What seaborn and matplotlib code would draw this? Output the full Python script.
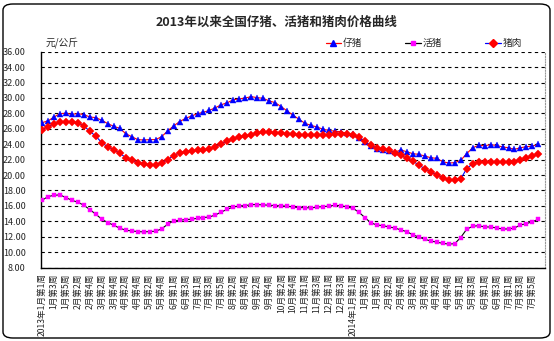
import matplotlib
matplotlib.use("Agg")
import matplotlib.pyplot as plt
from matplotlib.lines import Line2D
from matplotlib.patches import FancyBboxPatch
import seaborn as sns
import pandas as pd
import numpy as np

# ---------------- data ----------------
tick_labels = [
    "2013年1月第1周", "1月第3周", "1月第5周", "2月第2周", "2月第4周", "3月第2周", "3月第4周",
    "4月第2周", "4月第4周", "5月第2周", "5月第4周", "6月第1周", "6月第3周", "7月第1周",
    "7月第3周", "7月第5周", "8月第2周", "8月第4周", "9月第2周", "9月第4周", "10月第2周",
    "10月第4周", "11月第1周", "11月第3周", "12月第1周", "12月第3周", "2014年1月第1周",
    "1月第3周", "1月第5周", "2月第2周", "2月第4周", "3月第2周", "3月第4周", "4月第2周",
    "4月第4周", "5月第1周", "5月第3周", "6月第1周", "6月第3周", "7月第1周", "7月第3周",
    "7月第5周",
]

piglet = [  # 仔猪
    26.80, 27.02, 27.53, 27.97, 28.01, 27.88, 27.97, 27.84, 27.53, 27.45,
    27.10, 26.67, 26.32, 26.06, 25.37, 24.98, 24.60, 24.55, 24.60, 24.60,
    24.98, 25.72, 26.37, 26.93, 27.36, 27.66, 27.97, 28.14, 28.40, 28.74,
    29.13, 29.39, 29.78, 29.87, 30.00, 30.17, 30.04, 29.95, 29.61, 29.39,
    28.87, 28.31, 27.75, 27.22, 26.70, 26.44, 26.23, 25.93, 25.80, 25.67,
    25.62, 25.41, 25.28, 24.84, 24.33, 23.77, 23.33, 23.21, 23.16, 22.99,
    23.25, 23.03, 22.77, 22.69, 22.47, 22.25, 22.17, 21.73, 21.56, 21.61,
    21.91, 22.77, 23.55, 23.85, 23.81, 23.94, 23.85, 23.64, 23.55, 23.33,
    23.55, 23.68, 23.77, 23.98,
]

live_hog = [  # 活猪
    16.73, 17.21, 17.38, 17.43, 17.08, 16.73, 16.47, 16.09, 15.52, 14.92,
    14.27, 13.84, 13.49, 13.11, 12.85, 12.76, 12.67, 12.63, 12.67, 12.72,
    13.02, 13.62, 14.06, 14.14, 14.23, 14.27, 14.40, 14.49, 14.57, 14.83,
    15.22, 15.57, 15.87, 16.00, 16.04, 16.17, 16.17, 16.13, 16.09, 16.04,
    16.00, 15.96, 15.86, 15.78, 15.78, 15.73, 15.86, 15.90, 15.99, 16.08,
    16.03, 15.86, 15.69, 15.17, 14.48, 13.79, 13.53, 13.44, 13.27, 13.14,
    12.88, 12.67, 12.24, 11.97, 11.67, 11.45, 11.30, 11.15, 11.05, 11.10,
    11.90, 12.97, 13.36, 13.44, 13.27, 13.27, 13.14, 13.01, 13.01, 13.14,
    13.53, 13.70, 13.96, 14.26,
]

pork = [  # 猪肉
    25.89, 26.28, 26.63, 26.84, 26.84, 26.89, 26.80, 26.37, 25.68, 25.03,
    24.21, 23.65, 23.30, 22.83, 22.26, 21.92, 21.57, 21.40, 21.31, 21.36,
    21.57, 22.00, 22.52, 22.91, 23.04, 23.17, 23.21, 23.26, 23.39, 23.65,
    24.08, 24.42, 24.73, 24.90, 25.07, 25.24, 25.42, 25.63, 25.55, 25.46,
    25.42, 25.33, 25.27, 25.19, 25.15, 25.15, 25.15, 25.19, 25.24, 25.28,
    25.32, 25.28, 25.15, 24.93, 24.41, 23.85, 23.55, 23.33, 23.25, 22.90,
    22.56, 22.17, 21.82, 21.30, 20.83, 20.39, 20.05, 19.66, 19.40, 19.32,
    19.49, 20.83, 21.48, 21.69, 21.69, 21.74, 21.69, 21.65, 21.65, 21.65,
    22.00, 22.21, 22.43, 22.77,
]

series_names = ["仔猪", "活猪", "猪肉"]

# ---------------- style ----------------
sns.set_style("white")
plt.rcParams["font.family"] = ["Noto Sans CJK SC", "DejaVu Sans"]
plt.rcParams["axes.unicode_minus"] = False

W, H = 554, 341
fig = plt.figure(figsize=(W / 100, H / 100), dpi=100)
ax = fig.add_axes([41 / W, 1 - 267.6 / H, (545 - 41) / W, (267.6 - 51.7) / H])

weeks = np.arange(len(piglet))
df = pd.DataFrame({"week": weeks, "仔猪": piglet, "活猪": live_hog, "猪肉": pork})

sns.lineplot(data=df, x="week", y="仔猪", ax=ax, color="#ff0000", linewidth=0.8,
             marker="^", markersize=5.0, markerfacecolor="#0000ff",
             markeredgecolor="#0000ff", markeredgewidth=0.3, zorder=3)
sns.lineplot(data=df, x="week", y="活猪", ax=ax, color="black", linewidth=0.8,
             marker="s", markersize=2.6, markerfacecolor="#ff00ff",
             markeredgecolor="#ff00ff", markeredgewidth=0.3, zorder=3)
sns.lineplot(data=df, x="week", y="猪肉", ax=ax, color="#0000ff", linewidth=0.8,
             marker="D", markersize=4.0, markerfacecolor="#ff0000",
             markeredgecolor="#ff0000", markeredgewidth=0.3, zorder=3)

# axes
ax.set_xlim(-0.17, 84.1)
ax.set_ylim(8, 36)
ax.set_yticks(np.arange(8, 37, 2))
ax.set_yticklabels([f"{v:.2f}" for v in np.arange(8, 37, 2)], fontsize=6.5)
ax.yaxis.grid(True, color="black", linestyle=(0, (3, 3)), linewidth=0.8)
ax.xaxis.grid(False)
ax.tick_params(axis="y", length=0, pad=11)

ax.set_xticks(weeks[::2])
ax.set_xticklabels(tick_labels, rotation=90, fontsize=6.2, va="top", ha="center")
ax.set_xticks(weeks, minor=True)
ax.tick_params(axis="x", which="both", direction="in", length=3, width=0.7,
               color="black", pad=4)
ax.set_xlabel("")
ax.set_ylabel("")

for side in ["left", "bottom"]:
    ax.spines[side].set_color("black")
    ax.spines[side].set_linewidth(1.0)
ax.spines["top"].set_visible(False)
ax.spines["right"].set_color("#999999")
ax.spines["right"].set_linestyle((0, (1, 1.5)))
ax.spines["right"].set_linewidth(0.8)
if ax.get_legend():
    ax.get_legend().remove()

# title & unit
fig.text(277 / W, 1 - 22 / H, "2013年以来全国仔猪、活猪和猪肉价格曲线",
         ha="center", va="center", fontsize=9, fontweight="bold")
fig.text(46 / W, 1 - 43 / H, "元/公斤", ha="left", va="center",
         fontsize=7, style="italic")

# legend
handles = [
    Line2D([], [], color="#ff0000", lw=0.9, marker="^", markersize=5.0,
           markerfacecolor="#0000ff", markeredgecolor="#0000ff"),
    Line2D([], [], color="black", lw=0.9, marker="s", markersize=2.6,
           markerfacecolor="#ff00ff", markeredgecolor="#ff00ff"),
    Line2D([], [], color="#0000ff", lw=0.9, marker="D", markersize=4.0,
           markerfacecolor="#ff0000", markeredgecolor="#ff0000"),
]
fig.legend(handles, series_names, ncol=3, frameon=False, fontsize=7,
           loc="center right", bbox_to_anchor=(526 / W, 1 - 43 / H),
           handlelength=1.6, handletextpad=0.2, columnspacing=4.4,
           borderaxespad=0, numpoints=1)

# outer rounded frame
frame = FancyBboxPatch((3 / W, 3 / H), (W - 7) / W, (H - 7) / H,
                       boxstyle="round,pad=0,rounding_size=0.018",
                       transform=fig.transFigure, fill=False,
                       edgecolor="black", linewidth=1.0)
fig.patches.append(frame)

fig.savefig("out.png", dpi=100)
